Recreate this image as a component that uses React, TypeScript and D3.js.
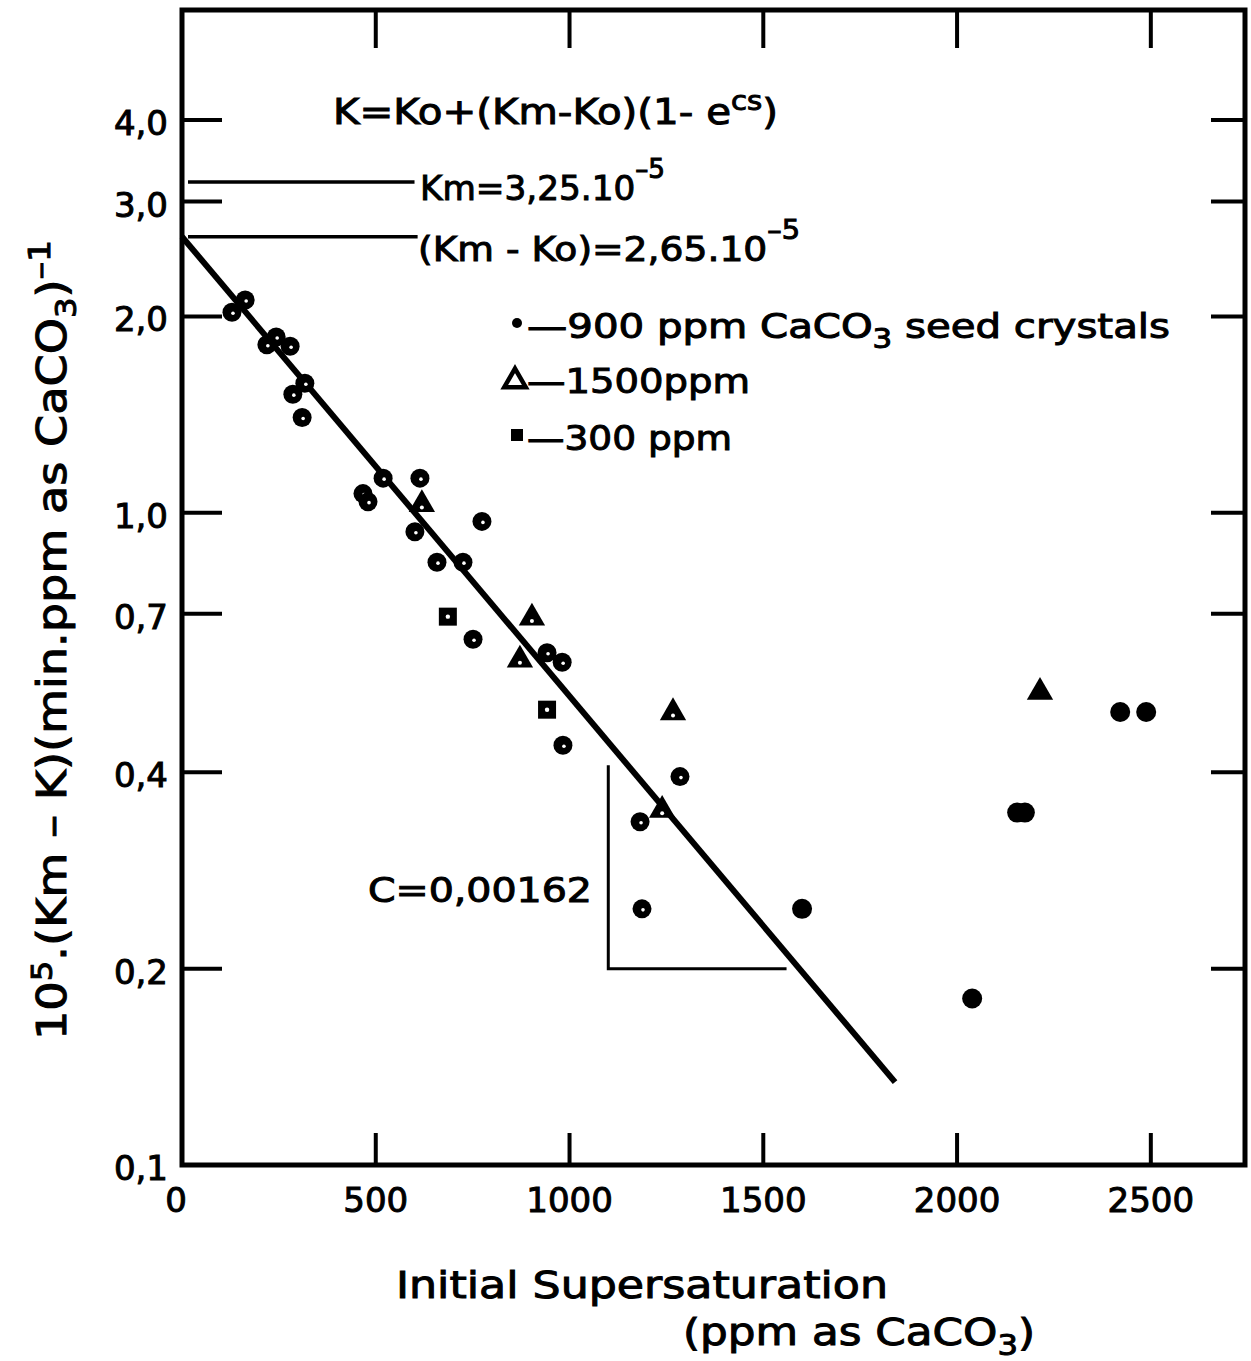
import React from 'react';
import * as d3 from 'd3';

// 900 ppm CaCO3 seed crystals (ringed dots)
const seed900 = [
  { x: 129, y: 2.03 }, { x: 163, y: 2.12 }, { x: 219, y: 1.81 }, { x: 243, y: 1.86 },
  { x: 279, y: 1.8 }, { x: 317, y: 1.58 }, { x: 286, y: 1.52 }, { x: 310, y: 1.4 },
  { x: 519, y: 1.13 }, { x: 614, y: 1.13 }, { x: 467, y: 1.07 }, { x: 480, y: 1.04 },
  { x: 601, y: 0.935 }, { x: 774, y: 0.97 }, { x: 658, y: 0.84 }, { x: 725, y: 0.84 },
  { x: 751, y: 0.64 }, { x: 942, y: 0.61 }, { x: 981, y: 0.59 }, { x: 983, y: 0.44 },
  { x: 1285, y: 0.394 }, { x: 1182, y: 0.336 }, { x: 1187, y: 0.247 },
];
// 900 ppm, solid dots at high supersaturation
const seed900Solid = [
  { x: 1600, y: 0.247 }, { x: 2039, y: 0.18 }, { x: 2155, y: 0.347 }, { x: 2175, y: 0.347 },
  { x: 2421, y: 0.495 }, { x: 2488, y: 0.495 },
];
const seed1500 = [
  { x: 619, y: 1.03 }, { x: 903, y: 0.69 }, { x: 872, y: 0.595 }, { x: 1267, y: 0.494 },
  { x: 1239, y: 0.35 },
];
const seed1500Solid = [{ x: 2214, y: 0.531 }];
const seed300 = [{ x: 686, y: 0.693 }, { x: 942, y: 0.499 }];

// fitted line: (Km-Ko) = 2,65 at s = 0, C = 0,00162
const fitLine = [{ x: 0, y: 2.65 }, { x: 1840, y: 0.134 }];
const slopeGuide = [{ x: 1100, y: 0.41 }, { x: 1100, y: 0.2 }, { x: 1560, y: 0.2 }];
const kmLevel = 3.25;
const kmKoLevel = 2.65;

const xTicks = [500, 1000, 1500, 2000, 2500];
const xLabels = [0, 500, 1000, 1500, 2000, 2500];
const yTicks = [4, 3, 2, 1, 0.7, 0.4, 0.2];
const yLabels = ['4,0', '3,0', '2,0', '1,0', '0,7', '0,4', '0,2', '0,1'];
const yLabelVals = [4, 3, 2, 1, 0.7, 0.4, 0.2, 0.1];

const W = 1251;
const H = 1361;
const L = 182;
const R = 1245;
const T = 10;
const B = 1165;
const FONT = '"DejaVu Sans", sans-serif';

export default function App() {
  const x = d3.scaleLinear().domain([0, 2743]).range([L, R]);
  const y = d3.scaleLog().domain([0.1, 5.9]).range([B, T]);
  const line = d3.line<{ x: number; y: number }>().x((d) => x(d.x)).y((d) => y(d.y));
  const tri = d3.symbol(d3.symbolTriangle, 300)();
  const triLegend = d3.symbol(d3.symbolTriangle, 200)();

  return (
    <svg width={W} height={H} style={{ position: 'absolute', left: 0, top: 0, background: '#fff' }}
      fontFamily={FONT} fill="#000">
      {/* frame */}
      <rect x={L} y={T} width={R - L} height={B - T} fill="none" stroke="#000" strokeWidth={5} />

      {/* ticks, all pointing inward */}
      {xTicks.map((t) => (
        <g key={'xt' + t} stroke="#000" strokeWidth={4}>
          <line x1={x(t)} x2={x(t)} y1={B} y2={B - 32} />
          <line x1={x(t)} x2={x(t)} y1={T} y2={T + 38} />
        </g>
      ))}
      {yTicks.map((t) => (
        <g key={'yt' + t} stroke="#000" strokeWidth={4}>
          <line x1={L} x2={L + 40} y1={y(t)} y2={y(t)} />
          <line x1={R} x2={R - 34} y1={y(t)} y2={y(t)} />
        </g>
      ))}

      <g stroke="#000" strokeWidth={1}>
        {/* tick labels */}
        {xLabels.map((t) => (
          <text key={'xl' + t} x={x(t) - (t === 0 ? 6 : 0)} y={1212} fontSize={34} textAnchor="middle">{t}</text>
        ))}
        {yLabelVals.map((v, i) => (
          <text key={'yl' + v} x={168} y={y(v) + 15} fontSize={34} textAnchor="end">{yLabels[i]}</text>
        ))}

        {/* axis titles */}
        <text x={396} y={1298} fontSize={38} textLength={492} lengthAdjust="spacingAndGlyphs">Initial Supersaturation</text>
        <text x={683} y={1345} fontSize={38} textLength={352} lengthAdjust="spacingAndGlyphs">
          (ppm as CaCO<tspan dy={10} fontSize={28}>3</tspan><tspan dy={-10}>)</tspan>
        </text>
        <text transform="translate(66,640) rotate(-90)" fontSize={40} textAnchor="middle" textLength={800} lengthAdjust="spacingAndGlyphs">
          10<tspan dy={-14} fontSize={28}>5</tspan><tspan dy={14}>.(Km – K)(min.ppm as CaCO</tspan><tspan dy={10} fontSize={28}>3</tspan><tspan dy={-10}>)</tspan><tspan dy={-16} fontSize={30}>–1</tspan>
        </text>

        {/* equation and constants */}
        <text x={333} y={124} fontSize={36} textLength={445} lengthAdjust="spacingAndGlyphs">
          K=Ko+(Km-Ko)(1- e<tspan dy={-14} fontSize={26}>cs</tspan><tspan dy={14}>)</tspan>
        </text>
        <text x={420} y={200} fontSize={34} textLength={245} lengthAdjust="spacingAndGlyphs">
          Km=3,25.10<tspan dy={-22} fontSize={26}>–5</tspan>
        </text>
        <text x={418} y={261} fontSize={34} textLength={382} lengthAdjust="spacingAndGlyphs">
          (Km - Ko)=2,65.10<tspan dy={-22} fontSize={26}>–5</tspan>
        </text>

        {/* legend text */}
        <text x={527} y={338} fontSize={34} textLength={643} lengthAdjust="spacingAndGlyphs">
          —900 ppm CaCO<tspan dy={10} fontSize={26}>3</tspan><tspan dy={-10}> seed crystals</tspan>
        </text>
        <text x={527} y={393} fontSize={34} textLength={223} lengthAdjust="spacingAndGlyphs">—1500ppm</text>
        <text x={527} y={450} fontSize={34} textLength={205} lengthAdjust="spacingAndGlyphs">—300 ppm</text>

        <text x={368} y={902} fontSize={34} textLength={224} lengthAdjust="spacingAndGlyphs">C=0,00162</text>
      </g>

      {/* constant levels */}
      <line x1={L + 6} x2={x(600)} y1={y(kmLevel) + 3} y2={y(kmLevel) + 3} stroke="#000" strokeWidth={3.5} />
      <line x1={L + 6} x2={x(608)} y1={y(kmKoLevel)} y2={y(kmKoLevel)} stroke="#000" strokeWidth={3.5} />

      {/* legend markers */}
      <circle cx={517} cy={323} r={5} />
      <path d={triLegend} transform="translate(515,381)" fill="#fff" stroke="#000" strokeWidth={4.5} />
      <rect x={511} y={429} width={12} height={12} />

      {/* fitted line and slope guide */}
      <path d={line(fitLine) ?? ''} fill="none" stroke="#000" strokeWidth={6} />
      <path d={line(slopeGuide) ?? ''} fill="none" stroke="#000" strokeWidth={3} />

      {/* data points */}
      {seed900.map((d, i) => (
        <g key={'c' + i}>
          <circle cx={x(d.x)} cy={y(d.y)} r={9.5} />
          <circle cx={x(d.x) + 1} cy={y(d.y) + 1} r={1.8} fill="#fff" />
        </g>
      ))}
      {seed900Solid.map((d, i) => (
        <circle key={'cs' + i} cx={x(d.x)} cy={y(d.y)} r={10} />
      ))}
      {seed1500.map((d, i) => (
        <g key={'t' + i} transform={`translate(${x(d.x)},${y(d.y)})`}>
          <path d={tri} />
          <circle cy={3} r={2} fill="#fff" />
        </g>
      ))}
      {seed1500Solid.map((d, i) => (
        <path key={'ts' + i} d={tri} transform={`translate(${x(d.x)},${y(d.y)})`} />
      ))}
      {seed300.map((d, i) => (
        <g key={'s' + i}>
          <rect x={x(d.x) - 9} y={y(d.y) - 9} width={18} height={18} />
          <circle cx={x(d.x)} cy={y(d.y)} r={2.2} fill="#fff" />
        </g>
      ))}
    </svg>
  );
}
